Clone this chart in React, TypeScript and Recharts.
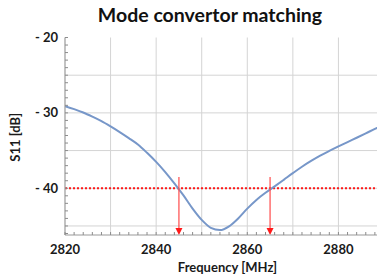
import React from 'react';
import {
  LineChart, Line, XAxis, YAxis, CartesianGrid, ReferenceLine, Label,
} from 'recharts';

const freqMHz = [
  2820, 2822, 2824, 2826, 2828, 2830, 2832, 2834, 2836, 2838, 2840, 2842, 2844, 2846,
  2848, 2850, 2852, 2854, 2856, 2858, 2860, 2862, 2864, 2866, 2868, 2870,
  2872, 2874, 2876, 2878, 2880, 2882, 2884, 2886, 2888, 2890,
];
const s11dB = [
  -29.1, -29.5, -29.95, -30.5, -31.1, -31.8, -32.55, -33.35, -34.2, -35.3, -36.5, -37.85, -39.35, -40.95,
  -42.7, -44.2, -45.25, -45.55, -45.05, -44.0, -42.7, -41.55, -40.6, -39.75, -38.88, -38.0,
  -37.15, -36.38, -35.68, -35.05, -34.45, -33.87, -33.3, -32.72, -32.12, -31.55,
];

const xDomain = [2820, 2890];
const yDomain = [-46.2, -20];
const xMinorTicks = [2820, 2822, 2824, 2826, 2828, 2830, 2832, 2834, 2836, 2838, 2840, 2842, 2844, 2846, 2848, 2850, 2852, 2854, 2856, 2858, 2860, 2862, 2864, 2866, 2868, 2870, 2872, 2874, 2876, 2878, 2880, 2882, 2884, 2886, 2888, 2890];
const xLabelTicks = [2820, 2840, 2860, 2880];
const yMinorTicks = [-46, -45, -44, -43, -42, -41, -40, -39, -38, -37, -36, -35, -34, -33, -32, -31, -30, -29, -28, -27, -26, -25, -24, -23, -22, -21, -20];
const yLabelTicks = [-20, -30, -40];
const xGrid = [2830, 2840, 2850, 2860, 2870, 2880, 2890];
const yGrid = [-25, -30, -35, -40, -45];

const thresholdDB = -40;
const thresholdEndMHz = 2888.6;
const markerFreqs = [2845, 2865];
const markerTopDB = -38.5;

const data = freqMHz.map((f, i) => ({ f, s11: s11dB[i] }));

const FONT = 'Lato, "Open Sans", sans-serif';
const TICK_MARGIN = 6;
const TICK_LEN = 3;
const TICK_COLOR = '#8c8c8c';

const BottomTick = (props: any) => {
  const { x, y, payload } = props;
  const base = y - TICK_MARGIN;
  const show = xLabelTicks.includes(payload.value);
  return (
    <g>
      <line x1={x} x2={x} y1={base} y2={base - TICK_LEN} stroke={TICK_COLOR} strokeWidth={1} />
      {show && (
        <text x={x} y={y} dy={12.5} textAnchor="middle" fontFamily={FONT} fontWeight="bold" fontSize={13} fill="#1a1a1a">
          {payload.value}
        </text>
      )}
    </g>
  );
};

const TopTick = (props: any) => {
  const { x, y } = props;
  const base = y + TICK_MARGIN;
  return <line x1={x} x2={x} y1={base} y2={base + TICK_LEN} stroke={TICK_COLOR} strokeWidth={1} />;
};

const LeftTick = (props: any) => {
  const { x, y, payload } = props;
  const base = x + TICK_MARGIN;
  const show = yLabelTicks.includes(payload.value);
  return (
    <g>
      <line x1={base} x2={base + TICK_LEN} y1={y} y2={y} stroke={TICK_COLOR} strokeWidth={1} />
      {show && (
        <text x={x - 1} y={y} dy={4.5} textAnchor="end" fontFamily={FONT} fontWeight="bold" fontSize={13} fill="#1a1a1a">
          {`- ${Math.abs(payload.value)}`}
        </text>
      )}
    </g>
  );
};

const ArrowShape = (props: any) => {
  const { x1, y1, x2, y2 } = props;
  const head = 7;
  return (
    <g>
      <line x1={x1} y1={y1} x2={x2} y2={y2 - head + 1} stroke="#ff4a4a" strokeWidth={1.2} />
      <polygon points={`${x2 - 3.5},${y2 - head} ${x2 + 3.5},${y2 - head} ${x2},${y2}`} fill="#ff1a1a" />
    </g>
  );
};

export default function App() {
  return (
    <div style={{ position: 'relative', width: 377, height: 268 }}>
      <div
        style={{
          position: 'absolute', left: 202, top: -4, transform: 'translateX(-50%)',
          fontFamily: FONT, fontWeight: 'bold', fontSize: 19.5, lineHeight: '22px',
          whiteSpace: 'nowrap', color: '#111',
        }}
      >
        Mode convertor matching
      </div>
      <LineChart
        width={377}
        height={268}
        data={data}
        margin={{ top: 29.5, right: 1, bottom: 0, left: 0 }}
      >
        <CartesianGrid
          stroke="#d4d4d4"
          strokeWidth={1}
          verticalValues={xGrid}
          horizontalValues={yGrid}
        />
        <XAxis
          dataKey="f"
          type="number"
          domain={xDomain}
          allowDataOverflow
          ticks={xMinorTicks}
          interval={0}
          tickSize={0}
          tickMargin={TICK_MARGIN}
          tick={<BottomTick />}
          axisLine={{ stroke: '#9a9a9a', strokeWidth: 1.2 }}
          tickLine={false}
          height={41}
        >
          <Label value="Frequency [MHz]" position="center" dx={3} dy={11.5} fontFamily={FONT} fontWeight="bold" fontSize={13} fill="#1a1a1a" />
        </XAxis>
        <XAxis
          xAxisId="top"
          orientation="top"
          dataKey="f"
          type="number"
          domain={xDomain}
          allowDataOverflow
          ticks={xMinorTicks}
          interval={0}
          tickSize={0}
          tickMargin={TICK_MARGIN}
          tick={<TopTick />}
          axisLine={{ stroke: '#9a9a9a', strokeWidth: 1.2 }}
          tickLine={false}
          height={0}
        />
        <YAxis
          type="number"
          domain={yDomain}
          allowDataOverflow
          ticks={yMinorTicks}
          interval={0}
          tickSize={0}
          tickMargin={TICK_MARGIN}
          tick={<LeftTick />}
          axisLine={{ stroke: '#9a9a9a', strokeWidth: 1.2 }}
          tickLine={false}
          width={57}
        >
          <Label value="S11 [dB]" position="center" angle={-90} dx={-21.5} dy={1} fontFamily={FONT} fontWeight="bold" fontSize={13} fill="#1a1a1a" />
        </YAxis>
        <ReferenceLine
          segment={[{ x: xDomain[0], y: thresholdDB }, { x: thresholdEndMHz, y: thresholdDB }]}
          stroke="#ff1a1a"
          strokeWidth={2}
          strokeDasharray="2 2"
        />
        <Line
          type="monotone"
          dataKey="s11"
          stroke="#7797c9"
          strokeWidth={2}
          dot={false}
          isAnimationActive={false}
        />
        {markerFreqs.map((f) => (
          <ReferenceLine
            key={f}
            segment={[{ x: f, y: markerTopDB }, { x: f, y: yDomain[0] }]}
            shape={<ArrowShape />}
          />
        ))}
      </LineChart>
    </div>
  );
}
